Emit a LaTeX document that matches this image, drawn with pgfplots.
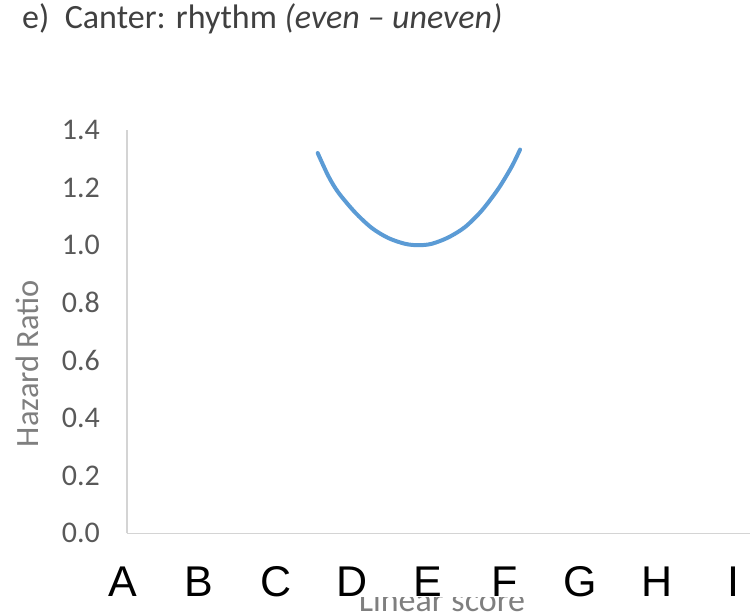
\documentclass[border=0pt]{standalone}
\usepackage{fontspec}
\setmainfont{Carlito}
\newfontfamily\narrowfont{Liberation Sans}
\usepackage{pgfplots}
\pgfplotsset{compat=1.18}
\definecolor{curveblue}{HTML}{5B9BD5}
\definecolor{tickgray}{HTML}{595959}
\definecolor{labgray}{HTML}{7F7F7F}
\definecolor{titlegray}{HTML}{404040}
\definecolor{axgray}{HTML}{D4D4D4}
\pgfplotstableread{
x y
2.553 1.320
2.693 1.240
2.824 1.183
3.043 1.114
3.262 1.060
3.479 1.025
3.698 1.005
3.873 1.000
4.049 1.005
4.266 1.027
4.485 1.063
4.704 1.120
4.922 1.196
5.098 1.273
5.207 1.332
}\curvedata
\begin{document}
\begin{tikzpicture}
\path[use as bounding box] (0,0) rectangle (750pt,614pt);
\begin{axis}[
  at={(127pt,80.7pt)}, anchor=south west,
  scale only axis,
  width=623pt, height=403.3pt,
  xmin=0.052, xmax=8.223,
  ymin=0, ymax=1.4,
  axis lines=left,
  axis line style={-, draw=axgray, line width=1.5pt},
  major tick length=0pt,
  xtick={0.052,1,2,3,4,5,6,7,8},
  xticklabels={\makebox[0pt]{A\hspace{9pt}},B,C,D,E,F,G,H,I},
  xticklabel style={anchor=north, inner sep=0pt, yshift=-33pt,
     font=\narrowfont\fontsize{43}{43}\selectfont, text=black},
  ytick={0,0.2,0.4,0.6,0.8,1.0,1.2,1.4},
  yticklabels={0.0,0.2,0.4,0.6,0.8,1.0,1.2,1.4},
  yticklabel style={anchor=east, inner sep=0pt, xshift=-27pt,
     font=\fontsize{30}{30}\selectfont, text=tickgray},
  ylabel={Hazard Ratio},
  ylabel style={at={(axis description cs:-0.1605,0.421)}, anchor=center, rotate=0,
     font=\fontsize{32.5}{32.5}\selectfont, text=labgray},
  xlabel={\tikz[baseline=0pt]{\clip (-120pt,-10pt) rectangle (120pt,14pt);
     \node[inner sep=0pt, anchor=base, text=labgray] at (0,0) {Linear score};}},
  xlabel style={at={(axis description cs:0.5056,-0.1951)}, anchor=base, inner sep=0pt,
     font=\fontsize{34}{34}\selectfont},
  title={e)\ \ Canter: rhythm \textit{(even -- uneven)}},
  title style={at={(axis description cs:-0.1685,1.2356)}, anchor=base west, inner sep=0pt,
     font=\fontsize{34}{34}\selectfont, text=titlegray},
  clip=false,
]
\addplot[curveblue, line width=4pt, smooth, line cap=round] table[x=x,y=y] {\curvedata};
\end{axis}
\end{tikzpicture}
\end{document}
